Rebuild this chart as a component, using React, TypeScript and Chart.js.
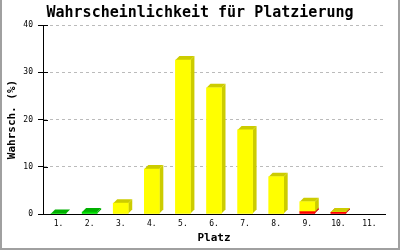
import React, { useEffect, useRef } from 'react';
import { Chart, registerables } from 'chart.js';

Chart.register(...registerables);

const categories = ['1.', '2.', '3.', '4.', '5.', '6.', '7.', '8.', '9.', '10.', '11.'];
const greenValues = [0.1, 0.4, 0, 0, 0, 0, 0, 0, 0, 0, 0];
const redValues = [0, 0, 0, 0, 0, 0, 0, 0, 0.5, 0.35, 0];
const yellowValues = [0, 0, 2.3, 9.5, 32.6, 26.7, 17.8, 7.9, 2.1, 0.05, 0];
const yTickValues = [0, 10, 20, 30, 40];

const titleText = 'Wahrscheinlichkeit für Platzierung';
const xTitle = 'Platz';
const yTitle = 'Wahrsch. (%)';

const MONO = '"DejaVu Sans Mono", "Liberation Mono", monospace';
const DEPTH = 4;

const bar3d = {
  id: 'bar3d',
  beforeDatasetsDraw(chart: any) {
    const ctx = chart.ctx;
    const n = chart.data.labels.length;
    ctx.save();
    for (let i = 0; i < n; i++) {
      chart.data.datasets.forEach((ds: any, di: number) => {
        const v = ds.data[i];
        if (!(v > 0)) return;
        const el = chart.getDatasetMeta(di).data[i];
        const { x, y, base, width } = el.getProps(['x', 'y', 'base', 'width'], true);
        const l = x - width / 2;
        const r = x + width / 2;
        ctx.fillStyle = ds.sideColor;
        ctx.beginPath();
        ctx.moveTo(r, base);
        ctx.lineTo(r + DEPTH, base - DEPTH);
        ctx.lineTo(r + DEPTH, y - DEPTH);
        ctx.lineTo(r, y);
        ctx.closePath();
        ctx.fill();
        ctx.beginPath();
        ctx.moveTo(l, y);
        ctx.lineTo(l + DEPTH, y - DEPTH);
        ctx.lineTo(r + DEPTH, y - DEPTH);
        ctx.lineTo(r, y);
        ctx.closePath();
        ctx.fill();
      });
    }
    ctx.restore();
  },
};

const frame = {
  id: 'frame',
  beforeDraw(chart: any) {
    const ctx = chart.ctx;
    ctx.save();
    ctx.fillStyle = '#ffffff';
    ctx.fillRect(0, 0, chart.width, chart.height);
    ctx.restore();
  },
  afterDraw(chart: any) {
    const ctx = chart.ctx;
    const area = chart.chartArea;
    const yScale = chart.scales.y;
    ctx.save();
    ctx.strokeStyle = '#000000';
    ctx.lineWidth = 1;
    yScale.ticks.forEach((t: any) => {
      const py = Math.round(yScale.getPixelForValue(t.value)) + 0.5;
      ctx.beginPath();
      ctx.moveTo(area.left, py);
      ctx.lineTo(area.left + 5, py);
      ctx.stroke();
    });
    ctx.fillStyle = '#a0a0a0';
    ctx.fillRect(0, 0, 2, chart.height);
    ctx.fillRect(chart.width - 2, 0, 2, chart.height);
    ctx.fillRect(0, chart.height - 2, chart.width, 2);
    ctx.restore();
  },
};

const toBars = (arr: number[]) => arr.map((v) => (v > 0 ? v : null));

export default function App() {
  const ref = useRef<HTMLCanvasElement | null>(null);

  useEffect(() => {
    document.body.style.margin = '0';
    if (!ref.current) return;
    const chart = new Chart(ref.current, {
      type: 'bar',
      data: {
        labels: categories,
        datasets: [
          {
            label: 'green',
            data: toBars(greenValues),
            backgroundColor: '#00dd00',
            sideColor: '#00b000',
            barThickness: 15,
            borderWidth: 0,
          } as any,
          {
            label: 'red',
            data: toBars(redValues),
            backgroundColor: '#ff0000',
            sideColor: '#cc0000',
            barThickness: 15,
            borderWidth: 0,
          } as any,
          {
            label: 'yellow',
            data: toBars(yellowValues),
            backgroundColor: '#ffff00',
            sideColor: '#cccc00',
            barThickness: 15,
            borderWidth: 0,
          } as any,
        ],
      },
      options: {
        animation: false,
        responsive: false,
        devicePixelRatio: 1,
        layout: { padding: 0 },
        plugins: {
          legend: { display: false },
          tooltip: { enabled: false },
          title: {
            display: true,
            text: titleText,
            color: '#000000',
            font: { family: MONO, size: 15, weight: 'bold' },
            padding: { top: 4, bottom: 3 },
          },
        },
        scales: {
          x: {
            stacked: true,
            grid: { display: false, drawTicks: false },
            border: { display: true, color: '#000000', width: 1 },
            ticks: {
              color: '#000000',
              font: { family: MONO, size: 8 },
              padding: 5,
              maxRotation: 0,
              autoSkip: false,
            },
            title: {
              display: true,
              text: xTitle,
              color: '#000000',
              font: { family: MONO, size: 11, weight: 'bold' },
              padding: { top: 0, bottom: 5 },
            },
            afterFit: (scale: any) => {
              scale.height = 36;
            },
          },
          y: {
            stacked: true,
            min: 0,
            max: 40,
            afterBuildTicks: (scale: any) => {
              scale.ticks = yTickValues.map((v) => ({ value: v }));
            },
            grid: {
              color: (c: any) => (c.tick && c.tick.value === 0 ? 'rgba(0,0,0,0)' : '#bbbbbb'),
              tickColor: '#000000',
              tickLength: 5,
              drawTicks: true,
            },
            border: { display: true, color: '#000000', width: 1, dash: [3, 3] },
            ticks: {
              color: '#000000',
              font: { family: MONO, size: 8 },
              padding: 5,
            },
            title: {
              display: true,
              text: yTitle,
              color: '#000000',
              font: { family: MONO, size: 11, weight: 'bold' },
              padding: { top: 6, bottom: 0 },
            },
            afterFit: (scale: any) => {
              scale.width = 43;
            },
          },
          yRight: {
            type: 'linear',
            position: 'right',
            display: true,
            grid: { display: false, drawTicks: false },
            border: { display: false },
            ticks: { display: false },
            afterFit: (scale: any) => {
              scale.width = 15;
            },
          },
        },
      } as any,
      plugins: [bar3d, frame],
    });
    return () => chart.destroy();
  }, []);

  return (
    <div style={{ position: 'fixed', left: 0, top: 0, width: 400, height: 250 }}>
      <canvas ref={ref} width={400} height={250} />
    </div>
  );
}
